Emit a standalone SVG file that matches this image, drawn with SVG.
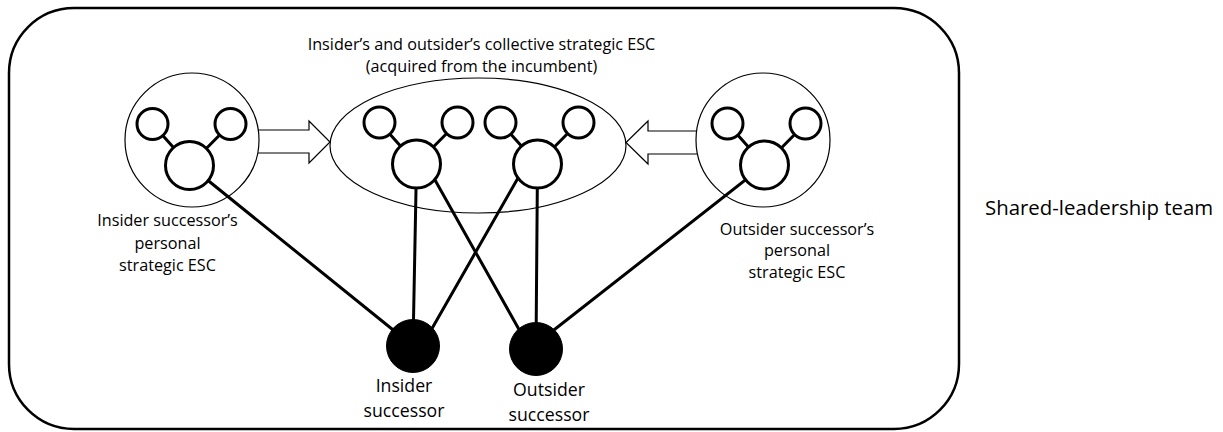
<svg xmlns="http://www.w3.org/2000/svg" xmlns:xlink="http://www.w3.org/1999/xlink" width="1223" height="432" viewBox="0 0 1223 432">
  <style>
    .frame { fill: none; stroke: #000; stroke-width: 2.5; }
    .container { fill: none; stroke: #000; stroke-width: 1.2; }
    .blockarrow { fill: #fff; stroke: #000; stroke-width: 1.2; }
    .link { stroke: #000; stroke-width: 3; stroke-linecap: round; fill: none; }
    .node { fill: #fff; stroke: #000; stroke-width: 3; }
    .person { fill: #000; stroke: #000; stroke-width: 1; }
    .lbl { font-family: "Open Sans", "Liberation Sans", sans-serif; font-size: 16.2px; fill: #000; text-anchor: middle; }
    .lbl2 { font-family: "Open Sans", "Liberation Sans", sans-serif; font-size: 17.7px; fill: #000; text-anchor: middle; }
    .lbl3 { font-family: "Open Sans", "Liberation Sans", sans-serif; font-size: 20.4px; fill: #000; }
  </style>
  <defs>
    <g id="cluster">
      <line class="link" x1="0" y1="0" x2="-37" y2="-41.5"/>
      <line class="link" x1="0" y1="0" x2="41" y2="-41.5"/>
      <circle class="node" cx="-37" cy="-41.5" r="15.5"/>
      <circle class="node" cx="41" cy="-41.5" r="15.5"/>
      <circle class="node" cx="0" cy="0" r="24"/>
    </g>
  </defs>

  <rect id="shared-leadership-team-frame" class="frame" x="9" y="8" width="950" height="421" rx="65" ry="65"/>

  <g id="connectors">
    <line class="link" x1="189.5" y1="165.5" x2="413" y2="346"/>
    <line class="link" x1="416.5" y1="164" x2="413" y2="346"/>
    <line class="link" x1="426" y1="164" x2="530" y2="349"/>
    <line class="link" x1="526" y1="164" x2="422" y2="346"/>
    <line class="link" x1="537.5" y1="164" x2="536" y2="349"/>
    <line class="link" x1="764.5" y1="165" x2="536" y2="344"/>
    <path class="blockarrow" d="M258,130 H309 V121 L330,142 L309,163 V153 H258"/>
    <path class="blockarrow" d="M697,131 H648 V121 L626,142.5 L648,164 V154 H697"/>
  </g>

  <g id="insider-personal-esc">
    <circle class="container" cx="192" cy="140" r="67"/>
    <use xlink:href="#cluster" href="#cluster" x="189.5" y="165.5"/>
    <text class="lbl" x="167.5" y="226">Insider successor’s</text>
    <text class="lbl" x="167.5" y="248.5">personal</text>
    <text class="lbl" x="167.5" y="271">strategic ESC</text>
  </g>

  <g id="collective-esc">
    <ellipse class="container" cx="478" cy="145.5" rx="148" ry="67.5"/>
    <use xlink:href="#cluster" href="#cluster" x="416.5" y="164"/>
    <use xlink:href="#cluster" href="#cluster" x="537.5" y="164"/>
    <text class="lbl" x="481.5" y="50">Insider’s and outsider’s collective strategic ESC</text>
    <text class="lbl" x="481.5" y="72">(acquired from the incumbent)</text>
  </g>

  <g id="outsider-personal-esc">
    <circle class="container" cx="763" cy="140" r="67"/>
    <use xlink:href="#cluster" href="#cluster" x="764.5" y="165"/>
    <text class="lbl" x="797" y="234.5">Outsider successor’s</text>
    <text class="lbl" x="797" y="256">personal</text>
    <text class="lbl" x="797" y="277.5">strategic ESC</text>
  </g>

  <g id="insider-successor">
    <circle class="person" cx="413" cy="346" r="26.5"/>
    <text class="lbl2" x="404" y="392">Insider</text>
    <text class="lbl2" x="404" y="417">successor</text>
  </g>

  <g id="outsider-successor">
    <circle class="person" cx="536" cy="349" r="26.5"/>
    <text class="lbl2" x="549" y="396">Outsider</text>
    <text class="lbl2" x="549" y="421">successor</text>
  </g>

  <g id="shared-leadership-team-label">
    <text class="lbl3" x="985" y="215">Shared-leadership team</text>
  </g>
</svg>
